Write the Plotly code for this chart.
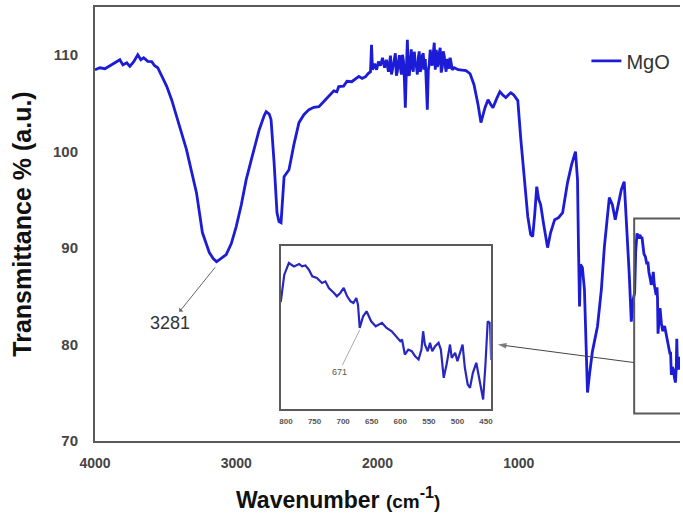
import plotly.graph_objects as go

# FTIR spectrum of MgO (wavenumber in cm^-1, transmittance in %)
WAVENUMBER = [
    4000, 3971, 3941, 3912, 3888, 3865, 3853, 3835, 3812, 3794, 3771, 3747, 3729, 3712,
    3688, 3665, 3647, 3629, 3606, 3576, 3547, 3518, 3488, 3459, 3429, 3400, 3365, 3324,
    3300, 3281, 3260, 3224, 3194, 3165, 3135, 3106, 3071, 3029, 3000, 2988, 2970, 2959,
    2941, 2924, 2912, 2900, 2882, 2853, 2824, 2794, 2765, 2735, 2706, 2676, 2647, 2618,
    2588, 2570, 2559, 2530, 2510, 2482, 2460, 2440, 2420, 2400, 2385,
    2371, 2365, 2359, 2347, 2335, 2324, 2312, 2300, 2288, 2277, 2265, 2253, 2247, 2241,
    2235, 2229, 2224, 2218, 2212, 2206, 2200, 2194, 2188, 2182, 2176, 2171, 2165, 2159,
    2153, 2147, 2141, 2135, 2130, 2124, 2118, 2112, 2106, 2100, 2094, 2088, 2083, 2077,
    2071, 2065, 2059, 2053, 2047, 2041, 2035, 2029, 2024, 2018, 2012, 2006, 2000, 1994,
    1988, 1982, 1976, 1971, 1965, 1959, 1953, 1947, 1941, 1935, 1929, 1924, 1918, 1912,
    1906, 1900, 1894, 1888, 1876,
    1853, 1830, 1806, 1782, 1759, 1735, 1718, 1694, 1676, 1660, 1647, 1625, 1606, 1590,
    1571, 1555, 1541, 1525, 1512, 1500, 1482, 1459, 1441, 1424, 1412, 1400, 1388, 1376,
    1365, 1347, 1324, 1306, 1282, 1259, 1235, 1206, 1182, 1159, 1147, 1141, 1135, 1129,
    1118, 1106, 1094, 1088, 1076, 1059, 1029, 1006, 988, 971, 959, 941, 924, 906, 888,
    871, 859, 841, 829, 818, 809,
    803, 795, 786, 777, 772, 766, 760, 754, 746, 737, 731, 725, 716, 711, 705, 699, 693,
    687, 682, 677, 674, 671, 665, 659, 651, 643, 632, 624, 615, 606, 600, 597, 592, 586,
    580, 574, 568, 563, 560, 557, 552, 548, 544, 539, 533, 529, 524, 519, 513, 510, 504,
    500, 496, 491, 487, 482, 478, 473, 467, 461, 455, 451, 447, 443, 441,
]
TRANSMITTANCE = [
    108.50, 108.70, 108.60, 108.91, 109.12, 109.33, 109.53, 109.00, 109.22, 108.84, 109.33,
    110.05, 109.53, 109.74, 109.36, 109.33, 108.91, 108.70, 107.88, 106.77, 105.39, 103.66,
    101.97, 100.21, 97.93, 95.75, 91.61, 89.53, 88.90, 88.60, 88.85, 89.33, 90.47, 92.23,
    94.50, 97.10, 99.48, 102.28, 103.73, 104.15, 103.90, 103.32, 98.86, 93.68, 92.75, 92.64,
    97.41, 98.13, 100.73, 103.01, 103.83, 104.36, 104.60, 104.66, 105.20, 105.70, 106.30,
    106.20, 106.74, 106.80, 107.30, 107.25, 107.50, 107.80, 107.60, 107.77, 108.10,
    108.29, 111.09, 108.50, 109.12, 108.50, 109.33, 108.91, 109.74, 108.70, 109.53, 108.29,
    109.95, 108.00, 108.50, 109.00, 109.74, 110.20, 107.87, 108.30, 109.33, 110.00, 108.70,
    108.00, 110.05, 109.40, 107.67, 104.56, 108.50, 111.61, 107.98, 108.00, 109.53, 110.60,
    108.70, 108.30, 110.36, 109.20, 108.91, 108.00, 109.74, 110.40, 108.29, 108.60, 109.95,
    110.20, 108.50, 109.60, 107.00, 104.35, 108.50, 109.00, 110.57, 109.40, 108.91, 110.20,
    111.30, 108.50, 110.57, 108.80, 109.12, 110.20, 110.78, 108.20, 108.70, 110.40, 109.95,
    108.90, 108.29, 109.60, 109.33, 108.60, 109.74, 109.20, 108.50, 108.70,
    108.50, 108.45, 108.40, 108.08, 106.94, 104.87, 103.01, 104.56, 105.39, 104.90, 104.56,
    105.50, 106.22, 105.90, 105.60, 105.90, 106.11, 105.90, 105.60, 105.30, 101.24, 97.10,
    93.26, 91.40, 91.19, 93.50, 96.37, 95.03, 94.51, 92.44, 90.05, 91.61, 92.95, 93.16,
    93.68, 96.79, 98.65, 100.00, 97.10, 89.84, 83.94, 88.29, 87.98, 85.70, 78.45, 75.03,
    76.90, 79.27, 81.87, 85.70, 90.16, 93.47, 95.23, 94.51, 92.95, 94.51, 96.06, 96.89,
    93.47, 87.25, 82.38, 84.66, 85.39,
    89.66, 91.53, 90.99, 91.37, 90.99, 91.15, 90.46, 89.39, 89.13, 88.33, 88.59, 87.53,
    86.73, 86.19, 86.73, 87.53, 86.19, 85.39, 85.13, 85.93, 84.80, 81.13, 82.99, 83.79,
    82.19, 81.39, 81.93, 81.13, 80.59, 79.53, 78.99, 79.26, 76.86, 77.66, 77.39, 76.59,
    76.06, 77.66, 80.59, 78.46, 77.39, 78.73, 77.39, 78.19, 78.73, 77.66, 73.13, 75.26,
    78.46, 76.33, 77.13, 75.79, 76.86, 78.46, 74.73, 72.06, 71.53, 73.93, 75.53, 72.59,
    69.66, 75.26, 82.19, 81.93, 76.00,
]

Y_TICKS = [70, 80, 90, 100, 110]
X_TICKS = [4000, 3000, 2000, 1000]
INSET_TICKS = [800, 750, 700, 650, 600, 550, 500, 450]

# ends of the pointer from the marked region to the magnified view
POINTER_X = [812, 1618]
POINTER_Y = [78.13, 80.0]

FONT = "Liberation Sans, Arial, sans-serif"
BLUE = "rgb(28,28,215)"
FRAME = "#5a5a5a"

fig = go.Figure()

fig.add_trace(go.Scatter(
    x=WAVENUMBER, y=TRANSMITTANCE, mode="lines", name="MgO",
    line=dict(color=BLUE, width=2.8), xaxis="x", yaxis="y",
))
# magnified view of the low-wavenumber region
fig.add_trace(go.Scatter(
    x=WAVENUMBER, y=TRANSMITTANCE, mode="lines", name="MgO",
    line=dict(color="rgb(40,40,190)", width=2.2), xaxis="x2", yaxis="y2",
    showlegend=False,
))
# empty trace that attaches the bottom tick-label scale
fig.add_trace(go.Scatter(
    x=[], y=[], mode="lines", xaxis="x3", yaxis="y",
    showlegend=False, hoverinfo="skip",
))
# pointer line with its arrowhead
fig.add_trace(go.Scatter(
    x=POINTER_X, y=POINTER_Y, mode="lines+markers", xaxis="x", yaxis="y",
    line=dict(color="#444", width=1),
    marker=dict(symbol=["line-ns", "arrow"], size=[0, 9], angleref="previous",
                color="#444", line=dict(width=0)),
    showlegend=False, hoverinfo="skip",
))

fig.update_layout(
    width=683, height=521,
    margin=dict(l=95, r=0, t=7, b=80),
    paper_bgcolor="white", plot_bgcolor="white",
    font=dict(family=FONT, color="#333"),
    xaxis=dict(
        range=[4000, 541], showgrid=False, zeroline=False,
        showline=True, linecolor=FRAME, linewidth=2, mirror=True,
        showticklabels=False, ticks="",
    ),
    yaxis=dict(
        range=[70, 115], tickvals=Y_TICKS, showgrid=False, zeroline=False,
        showline=True, linecolor=FRAME, linewidth=2, ticks="",
        ticklabelstandoff=12,
        tickfont=dict(size=15, color="#444", weight="bold"),
        title=dict(text="Transmittance % (a.u.)", standoff=14,
                   font=dict(size=25, color="#111", weight="bold")),
    ),
    # tick-label scale along the bottom edge
    xaxis3=dict(
        overlaying="x", anchor="y", side="bottom",
        range=[4000.5, -141], tickvals=X_TICKS,
        ticktext=[str(v) for v in X_TICKS],
        showgrid=False, zeroline=False, showline=False, ticks="",
        ticklabelstandoff=12,
        tickfont=dict(size=14, color="#444", weight="bold"),
    ),
    xaxis2=dict(
        domain=[0.3175, 0.6764], anchor="y2", range=[809.2, 441.8],
        tickvals=INSET_TICKS, showgrid=False, zeroline=False,
        showline=True, linecolor=FRAME, linewidth=1.5, mirror=True, ticks="",
        ticklabelstandoff=4,
        tickfont=dict(size=8, color="#555", weight="bold"),
    ),
    yaxis2=dict(
        domain=[0.0748, 0.4499], anchor="x2", range=[68.2, 94.3],
        showgrid=False, zeroline=False, showticklabels=False,
        showline=True, linecolor=FRAME, linewidth=1.5, mirror=True, ticks="",
    ),
    showlegend=True,
    legend=dict(
        x=0.84, y=0.876, xanchor="left", yanchor="middle",
        bgcolor="rgba(0,0,0,0)", borderwidth=0,
        font=dict(size=20, color="#333"),
    ),
)

# frame marking the magnified region
fig.add_shape(
    type="rect", xref="x", yref="y", x0=812, x1=440, y0=72.85, y1=93.06,
    line=dict(color=FRAME, width=2), fillcolor="rgba(0,0,0,0)",
)

fig.add_annotation(
    text="Wavenumber <span style='font-size:19px'>(cm</span><sup>-1</sup>"
         "<span style='font-size:19px'>)</span>",
    xref="paper", yref="paper", x=0.415, y=-0.132,
    xanchor="center", yanchor="middle", showarrow=False,
    font=dict(size=23, color="#111", weight="bold"),
)

# 3281 band label, arrowhead at the label end
fig.add_annotation(
    text="3281", xref="x", yref="y", x=3290, y=88.0,
    axref="x", ayref="y", ax=3556, ay=82.2,
    showarrow=True, arrowside="start", arrowhead=2, arrowsize=1,
    arrowwidth=1, arrowcolor="#666",
    font=dict(size=18, color="#333"),
)

# 671 band label in the magnified view
fig.add_annotation(
    text="671", xref="x2", yref="y2", x=671, y=80.8,
    axref="x2", ayref="y2", ax=707, ay=74.1,
    showarrow=True, arrowhead=0, arrowwidth=1, arrowcolor="#aaa",
    font=dict(size=9, color="#555"),
)

fig.write_html("out.html")
